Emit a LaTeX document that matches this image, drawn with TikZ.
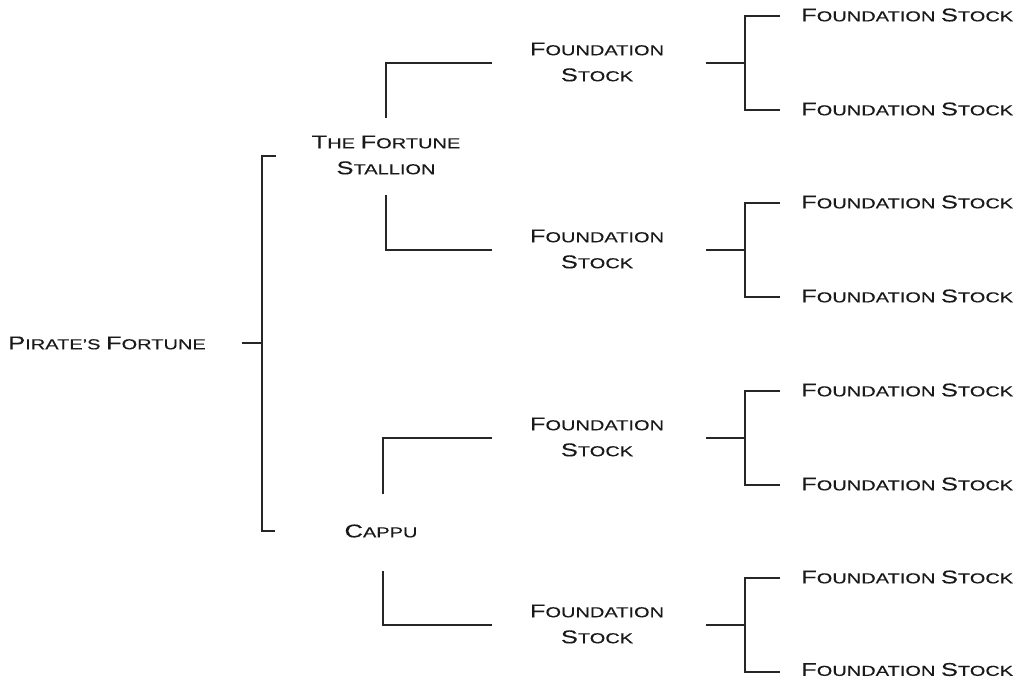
\documentclass[tikz,border=0pt]{standalone}
\usepackage{fontspec}
\setmainfont[FakeStretch=1.38,FakeBold=0.15]{Liberation Sans}
\newcommand\Bg[1]{{\fontsize{18.5}{18.5}\selectfont #1}}
\begin{document}
\begin{tikzpicture}[x=1pt,y=-1pt,
  lbl/.style={inner sep=0pt,font=\fontsize{14.5}{26}\selectfont,text=black!90,align=center},
  leaf/.style={lbl,anchor=west},
  conn/.style={draw=black!85,line width=1.2pt}]
\useasboundingbox (0,0) rectangle (1016,679);
% nodes
\node[lbl] (root) at (107,343) {\Bg{P}IRATE'S \Bg{F}ORTUNE};
\node[lbl] (stal) at (386,155) {\Bg{T}HE \Bg{F}ORTUNE\\\Bg{S}TALLION};
\node[lbl] (cap) at (381,531) {\Bg{C}APPU};
\foreach \i/\c/\d in {1/62/47,2/249/47,3/437/47,4/624/45.5}{
  \node[lbl] (f\i) at (597,\c) {\Bg{F}OUNDATION\\\Bg{S}TOCK};
  \node[leaf] (f\i a) at (801,\c-47) {\Bg{F}OUNDATION \Bg{S}TOCK};
  \node[leaf] (f\i b) at (801,\c+\d) {\Bg{F}OUNDATION \Bg{S}TOCK};
  \coordinate (s\i) at (706,\c+1);
  \coordinate (j\i) at (745,\c+1);
  \coordinate (ja\i) at (745,\c-46);
  \coordinate (jb\i) at (745,\c+48);
  \coordinate (ta\i) at (780,\c-46);
  \coordinate (tb\i) at (780,\c+48);
  \draw[conn] (s\i) -- (j\i);
  \draw[conn] (ta\i) -- (ja\i) -- (jb\i) -- (tb\i);
  \coordinate (e\i) at (492,\c+1);
}
% root bracket
\coordinate (rs) at (242,343);
\coordinate (rj) at (262,343);
\coordinate (rt) at (262,156);
\coordinate (rb) at (262,531);
\coordinate (rtt) at (276,156);
\coordinate (rbt) at (275,531);
\draw[conn] (rs) -- (rj);
\draw[conn] (rtt) -- (rt) -- (rb) -- (rbt);
% stallion
\coordinate (st1) at (386,118);
\coordinate (sc1) at (386,63);
\coordinate (st2) at (386,195);
\coordinate (sc2) at (386,250);
\draw[conn] (st1) -- (sc1) -- (e1);
\draw[conn] (st2) -- (sc2) -- (e2);
% cappu
\coordinate (ct1) at (383,494);
\coordinate (cc1) at (383,438);
\coordinate (ct2) at (383,571);
\coordinate (cc2) at (383,625);
\draw[conn] (ct1) -- (cc1) -- (e3);
\draw[conn] (ct2) -- (cc2) -- (e4);
\end{tikzpicture}
\end{document}
